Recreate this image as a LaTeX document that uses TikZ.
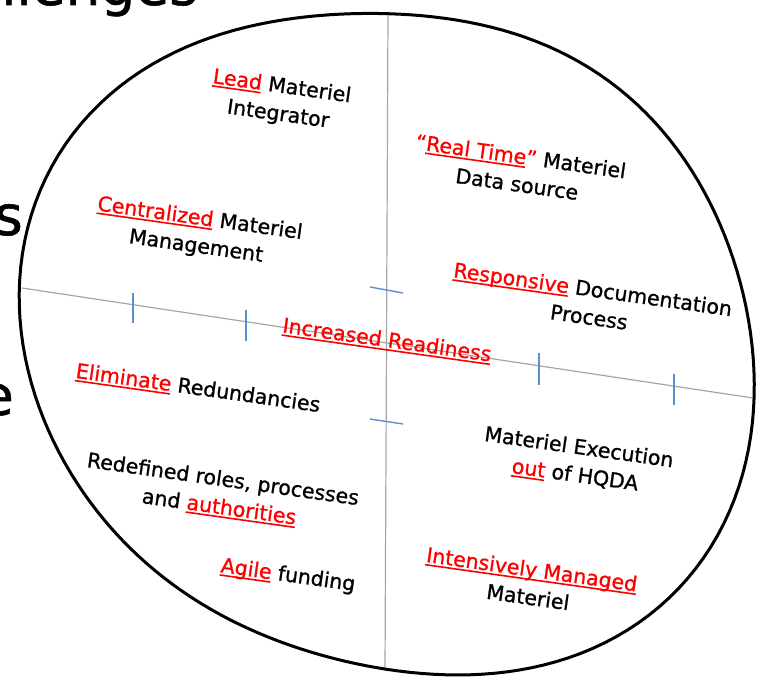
\documentclass[tikz,border=0pt]{standalone}
\usepackage{fontspec}
\setmainfont{DejaVu Sans}
\newfontfamily\lblfont{DejaVu Sans}[FakeBold=1.0]
\definecolor{axisgray}{HTML}{A6A6A6}
\definecolor{tickblue}{HTML}{5B8FD0}
\definecolor{hired}{HTML}{FF0000}
\newcommand\redword[1]{{\color{hired}\setbox0\hbox{#1}\rlap{\rule[-3.6pt]{\wd0}{1.6pt}}\box0}}
\begin{document}
\begin{tikzpicture}[x=1pt,y=-1pt,
  declare function={rr(\t)=350.3+4.5*cos(\t)-4.8*sin(\t)+18.3*cos(2*\t)+19.55*sin(2*\t)-5.0*cos(3*\t)-1.4*sin(3*\t)-4.1*cos(4*\t)+2.4*sin(4*\t);},
  lbl/.style={font=\lblfont\fontsize{20.5}{28}\selectfont, align=center, rotate=-8, inner sep=0pt},
  big/.style={font=\lblfont\fontsize{55}{60}\selectfont, inner sep=0pt},
  axisline/.style={draw=axisgray, line width=1.2pt},
  tickline/.style={draw=tickblue, line width=1.4pt},
  rim/.style={draw=black, line width=3pt}]
\useasboundingbox (0,0) rectangle (757,677);
\clip (0,0) rectangle (757,677);
% fragments of slide text
\node[big, anchor=base east] (frag1) at (198,5) {Challenges};
\node[big, anchor=base east] (frag2) at (23,235) {s};
\node[big, anchor=base east] (frag3) at (14,415) {e};
% axes
\coordinate (L) at (22,288);
\coordinate (R) at (753,398);
\coordinate (T) at (388,14);
\coordinate (B) at (385,670.5);
\draw[axisline] (L) -- (R);
\draw[axisline] (T) -- (B);
% ticks
\coordinate (h1a) at (133,293); \coordinate (h1b) at (133,323);
\coordinate (h2a) at (246,310); \coordinate (h2b) at (246,341);
\coordinate (h3a) at (539,353); \coordinate (h3b) at (539,385);
\coordinate (h4a) at (674,374); \coordinate (h4b) at (674,405);
\coordinate (v1a) at (370,287); \coordinate (v1b) at (403,293);
\coordinate (v2a) at (370,419); \coordinate (v2b) at (403,424);
\draw[tickline] (h1a) -- (h1b);
\draw[tickline] (h2a) -- (h2b);
\draw[tickline] (h3a) -- (h3b);
\draw[tickline] (h4a) -- (h4b);
\draw[tickline] (v1a) -- (v1b);
\draw[tickline] (v2a) -- (v2b);
% rim
\draw[rim] plot[variable=\t, domain=0:358, samples=180] ({388+rr(\t)*cos(\t)},{345+rr(\t)*sin(\t)}) -- cycle;
% labels
\node[lbl] (lead) at (280,101) {\redword{Lead} Materiel\\Integrator};
\node[lbl] (real) at (519,170) {{\color{hired}“}\redword{Real Time}{\color{hired}”} Materiel\\Data source};
\node[lbl] (cent) at (198,233) {\redword{Centralized} Materiel\\Management};
\node[lbl] (resp) at (591,303) {\redword{Responsive} Documentation\\Process};
\node[lbl] (incr) at (387,341) {\redword{Increased Readiness}};
\node[lbl] (elim) at (198,389) {\redword{Eliminate} Redundancies};
\node[lbl] (exec) at (577,462) {Materiel Execution\\\redword{out} of HQDA};
\node[lbl] (redef) at (221,494) {Redefined roles, processes\\and \redword{authorities}};
\node[lbl] (agile) at (288,576) {\redword{Agile} funding};
\node[lbl] (inten) at (530,583) {\redword{Intensively Managed}\\Materiel};
\end{tikzpicture}
\end{document}
